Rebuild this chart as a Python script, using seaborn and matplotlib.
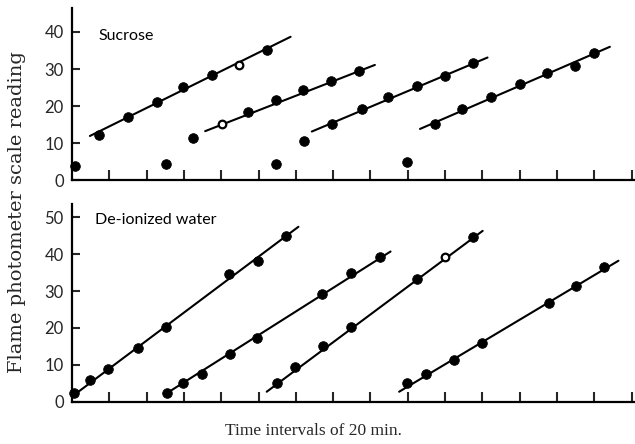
import matplotlib
matplotlib.use("Agg")
import matplotlib.pyplot as plt
import seaborn as sns
import pandas as pd

# Sucrose panel: readings (x in 20-min intervals, y in scale units)
suc_x = [0.08, 0.72, 1.49, 2.27, 2.97, 3.76, 4.49, 5.22,
         2.51, 3.25, 5.47, 6.23, 8.99,
         4.01, 4.73, 5.47, 6.20, 6.94, 7.70,
         6.98, 7.77, 8.48, 9.24, 10.00, 10.74,
         9.73, 10.46, 11.23, 12.00, 12.73, 13.49, 14.00]
suc_y = [3.8, 12.2, 17.1, 21.2, 25.0, 28.4, 31.1, 35.1,
         4.2, 11.4, 4.2, 10.6, 5.0,
         15.1, 18.3, 21.6, 24.3, 26.8, 29.5,
         15.1, 19.1, 22.5, 25.5, 28.1, 31.5,
         15.1, 19.1, 22.5, 25.9, 29.0, 30.9, 34.2]
suc_open = [False, False, False, False, False, False, True, False,
            False, False, False, False, False,
            True, False, False, False, False, False,
            False, False, False, False, False, False,
            False, False, False, False, False, False, False]
# fitted lines (start / end)
suc_line_x0 = [0.48, 3.57, 6.43, 9.33]
suc_line_y0 = [11.9, 13.2, 13.1, 13.8]
suc_line_x1 = [5.86, 8.12, 11.14, 14.42]
suc_line_y1 = [38.7, 31.1, 33.1, 36.0]

# De-ionized water panel
wat_x = [0.05, 0.48, 0.97, 1.76, 2.51, 4.22, 4.98, 5.73,
         2.54, 2.98, 3.48, 4.24, 4.95, 6.69, 7.48, 8.26,
         5.49, 5.98, 6.74, 7.47, 9.24, 10.00, 10.74,
         8.97, 9.49, 10.25, 10.98, 12.80, 13.50, 14.26]
wat_y = [2.3, 5.9, 8.9, 14.6, 20.2, 34.6, 38.2, 44.9,
         2.3, 5.0, 7.4, 12.9, 17.3, 29.1, 34.8, 39.3,
         5.1, 9.5, 15.2, 20.2, 33.3, 39.1, 44.7,
         5.0, 7.5, 11.3, 15.8, 26.8, 31.4, 36.4]
wat_open = [False] * 8 + [False] * 8 + [False, False, False, False, False, True, False] + [False] * 7
wat_line_x0 = [0.00, 2.51, 5.22, 8.77]
wat_line_y0 = [1.4, 2.1, 2.7, 2.7]
wat_line_x1 = [6.07, 8.54, 11.01, 14.65]
wat_line_y1 = [47.4, 40.7, 46.3, 38.2]

panel_titles = ["Sucrose", "De-ionized water"]
ylabel = "Flame photometer scale reading"
xlabel = "Time intervals of 20 min."

sns.set_theme(style="ticks")
plt.rcParams["font.family"] = ["Lato", "DejaVu Sans"]

W, H = 635, 444
fig = plt.figure(figsize=(W / 100, H / 100), dpi=100)
left = 72 / W
width = 1 - left
ax_top = fig.add_axes([left, 1 - 180 / H, width, (180 - 8) / H])
ax_bot = fig.add_axes([left, 1 - 401.7 / H, width, (401.7 - 204) / H])


def draw(ax, xs, ys, opens, lx0, ly0, lx1, ly1, ymax, yticks, title, tx, ty):
    segs = []
    for i, (a, b, c, d) in enumerate(zip(lx0, ly0, lx1, ly1)):
        segs.append({"seg": i, "x": a, "y": b})
        segs.append({"seg": i, "x": c, "y": d})
    seg_df = pd.DataFrame(segs)
    sns.lineplot(data=seg_df, x="x", y="y", units="seg", estimator=None,
                 color="black", lw=1.5, ax=ax, legend=False)
    pts = pd.DataFrame({"x": xs, "y": ys, "open": opens})
    filled = pts[~pts["open"]]
    hollow = pts[pts["open"]]
    sns.scatterplot(data=filled, x="x", y="y", color="black", edgecolor="black",
                    s=48, linewidth=0.6, ax=ax, zorder=3, clip_on=False)
    sns.scatterplot(data=hollow, x="x", y="y", color="white", edgecolor="black",
                    s=30, linewidth=1.6, ax=ax, zorder=4, clip_on=False)
    ax.set_xlim(0, (W - 72) / 37.3)
    ax.set_ylim(0, ymax)
    ax.set_xticks(range(1, 16))
    ax.set_xticklabels([])
    ax.set_yticks(yticks)
    ax.set_yticklabels([str(v) for v in yticks], fontsize=12)
    ax.tick_params(axis="x", direction="in", length=7, width=1.5)
    ax.tick_params(axis="y", direction="in", length=6, width=1.5, pad=6)
    ax.set_xlabel("")
    ax.set_ylabel("")
    for s in ["top", "right"]:
        ax.spines[s].set_visible(False)
    for s in ["left", "bottom"]:
        ax.spines[s].set_linewidth(1.6)
        ax.spines[s].set_color("black")
    ax.text(tx, ty, title, transform=ax.transAxes, fontsize=11.5,
            ha="left", va="center", color="black")


draw(ax_top, suc_x, suc_y, suc_open, suc_line_x0, suc_line_y0, suc_line_x1, suc_line_y1,
     (180 - 8) / 3.7, [0, 10, 20, 30, 40], panel_titles[0],
     (98 - 72) / (W - 72), (180 - 36) / (180 - 8))
draw(ax_bot, wat_x, wat_y, wat_open, wat_line_x0, wat_line_y0, wat_line_x1, wat_line_y1,
     (401.7 - 204) / 3.69, [0, 10, 20, 30, 40, 50], panel_titles[1],
     (95 - 72) / (W - 72), (401.7 - 220) / (401.7 - 204))

fig.text(17 / W, 1 - 212 / H, ylabel, rotation=90, ha="center", va="center",
         fontsize=14, family=["DejaVu Serif"])
fig.text(313 / W, 1 - 431 / H, xlabel, ha="center", va="center",
         fontsize=12.5, family=["Liberation Serif"])

fig.savefig("out.png", dpi=100)
